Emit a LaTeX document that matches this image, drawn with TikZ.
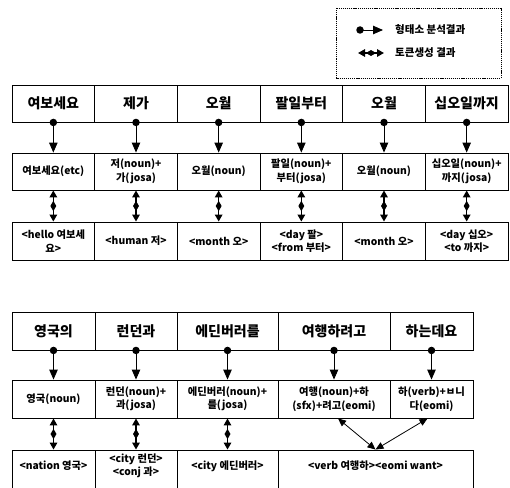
\documentclass[tikz,border=0pt]{standalone}
\usepackage{fontspec}
\setmainfont{Noto Sans CJK KR}
\usetikzlibrary{arrows.meta,shapes.geometric}
\tikzset{
  cell/.style={draw, line width=0.9pt, inner sep=1pt, align=center,
    font=\fontsize{10.3}{13.5}\selectfont\bfseries, minimum height=37pt},
  headcell/.style={cell, font=\fontsize{14}{16}\selectfont\bfseries},
  morph/.style={line width=0.9pt, -{Triangle[length=10pt,width=8.5pt]}},
  mdot/.style={circle, fill, inner sep=0pt, minimum size=7.5pt},
  token/.style={line width=1.5pt, {Triangle[length=7pt,width=7.5pt]}-{Triangle[length=7pt,width=7.5pt]}},
  tdia/.style={diamond, fill, inner sep=0pt, minimum width=6.5pt, minimum height=11pt},
  thinarr/.style={line width=0.8pt, {Triangle[length=8pt,width=7pt]}-{Triangle[length=8pt,width=7pt]}},
  legtext/.style={anchor=west, inner sep=0pt, font=\fontsize{10.5}{12}\selectfont\bfseries},
}
\begin{document}
\begin{tikzpicture}[x=1pt,y=-1pt]
\useasboundingbox (0,0) rectangle (510,487);
\clip (0,0) rectangle (510,487);

% legend
\draw[line width=0.8pt, dash pattern=on 1.2pt off 0.9pt] (336,8) rectangle (501,78);
\coordinate (l1a) at (360,30);
\coordinate (l1b) at (383,30);
\coordinate (l2a) at (358,53);
\coordinate (l2b) at (384,53);
\node[mdot] at (l1a) {};
\draw[morph] (l1a) -- (l1b);
\draw[token] (l2a) -- (l2b) node[midway, tdia, rotate=90] {};
\node[legtext] (lt1) at (395,30) {형태소 분석결과};
\node[legtext] (lt2) at (395,53) {토큰생성 결과};

% table 1
\foreach \i/\x/\ta/\tb/\tc in {
  1/53.33/여보세요/여보세요(etc)/{<hello 여보세\\요>},
  2/136.0/제가/{저(noun)+\\가(josa)}/{<human 저>},
  3/218.67/오월/오월(noun)/{<month 오>},
  4/301.33/팔일부터/{팔일(noun)+\\부터(josa)}/{<day 팔>\\<from 부터>},
  5/384.0/오월/오월(noun)/{<month 오>},
  6/466.67/십오일까지/{십오일(noun)+\\까지(josa)}/{<day 십오>\\<to 까지>}}{
  \node[headcell, minimum width=82.67pt] (a\i) at (\x,103.5) {\ta};
  \node[cell, minimum width=82.67pt] (b\i) at (\x,171.5) {\tb};
  \node[cell, minimum width=82.67pt, minimum height=38pt] (c\i) at (\x,241) {\tc};
  \node[mdot] at (a\i.south) {};
  \draw[morph] (a\i.south) -- (b\i.north);
  \draw[token] (b\i.south) -- (c\i.north) node[midway, tdia] {};
}

% table 2
\foreach \i/\x/\w/\ta/\tb in {
  1/53.5/83/영국의/영국(noun),
  2/136/82/런던과/{런던(noun)+\\과(josa)},
  3/227.5/101/에딘버러를/{에딘버러(noun)+\\를(josa)},
  4/334/112/여행하려고/{여행(noun)+하\\(sfx)+려고(eomi)},
  5/431.5/83/하는데요/{하(verb)+ㅂ니\\다(eomi)}}{
  \node[headcell, minimum width=\w pt, minimum height=38pt] (p\i) at (\x,331) {\ta};
  \node[cell, minimum width=\w pt, minimum height=38pt] (q\i) at (\x,399) {\tb};
  \node[mdot] at (p\i.south) {};
  \draw[morph] (p\i.south) -- (q\i.north);
}
\foreach \i/\x/\w/\tc in {
  1/53.5/83/{<nation 영국>},
  2/136/82/{<city 런던>\\<conj 과>},
  3/227.5/101/{<city 에딘버러>},
  4/375.5/195/{<verb 여행하><eomi want>}}{
  \node[cell, minimum width=\w pt, minimum height=42pt] (r\i) at (\x,471) {};
  \node[cell, draw=none] (rt\i) at (\x,466) {\tc};
}
\foreach \i in {1,2,3}{
  \draw[token] (q\i.south) -- (r\i.north) node[midway, tdia] {};
}
\draw[thinarr] ([xshift=4pt]q4.south) -- (r4.north);
\draw[thinarr] ([xshift=-4pt]q5.south) -- (r4.north);
\end{tikzpicture}
\end{document}
